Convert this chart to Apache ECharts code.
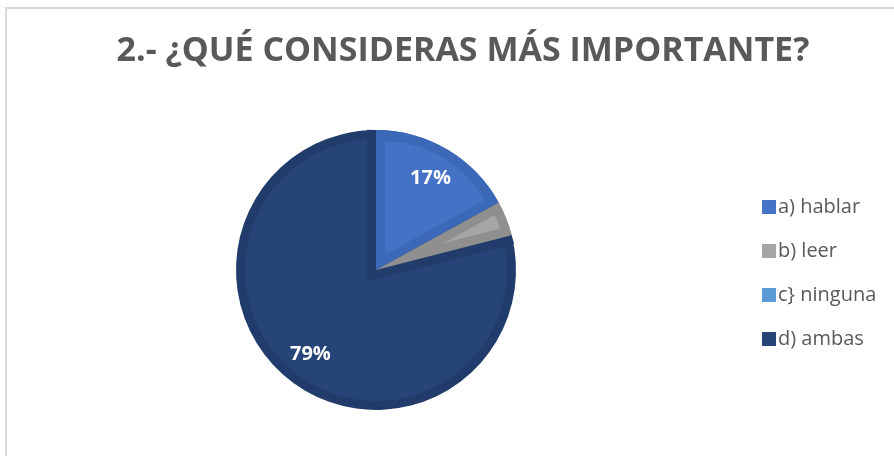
<!DOCTYPE html>
<html>
<head>
<meta charset="utf-8">
<script src="https://cdn.jsdelivr.net/npm/echarts@6/dist/echarts.min.js"></script>
<style>
  html, body { margin: 0; padding: 0; background: #fff; }
  .frame {
    position: absolute; left: 5px; top: 7px; width: 900px; height: 460px;
    border-left: 2px solid #d9d9d9; border-top: 2px solid #d9d9d9;
  }
  #chart { position: absolute; left: 0; top: 0; width: 894px; height: 456px; }
</style>
</head>
<body>
<div class="frame"></div>
<div id="chart"></div>
<script>
const TITLE = '2.- ¿QUÉ CONSIDERAS MÁS IMPORTANTE?'
const categories = ['a) hablar', 'b) leer', 'c} ninguna', 'd) ambas']
const values = [17, 4, 0, 79]
const fillColors = ['#4472C4', '#A5A5A5', '#5B9BD5', '#264478']
const bandColors = ['#3C68B8', '#8F8F8F', '#4F8AC2', '#213B6B']
const labelShown = [true, false, false, true]

const TEXT = '#595959'
const FONT = 'Open Sans'
const CENTER = [376, 270]
const R = 140   // outer radius
const W = 9     // width of the darker inner band of each slice
const NONE = 'rgba(0,0,0,0)'

const total = values.reduce((s, v) => s + v, 0)
const halfAngle = (v) => v / total * Math.PI

// one pie layer: every category is present so angles stay right, only some are painted
const layer = (radius, colorFor, extra = {}) => ({
  type: 'pie',
  center: CENTER,
  radius,
  silent: true,
  animation: false,
  label: { show: false },
  labelLine: { show: false },
  emphasis: { disabled: true },
  data: categories.map((name, i) => ({
    name,
    value: values[i],
    itemStyle: { color: colorFor(i), borderWidth: 0 }
  })),
  ...extra
})

// eroded fill of slice i: same wedge pushed along its bisector so the edges move in by W
const erodedFill = (i) => {
  const t = W / Math.sin(halfAngle(values[i]))
  const s = layer(Math.max(R - W - t, 0), (j) => (j === i ? fillColors[i] : NONE), {
    selectedMode: 'single',
    selectedOffset: t
  })
  s.data[i].selected = true
  s.select = { itemStyle: { color: fillColors[i] } }
  return s
}

// band of the big slice along the edges of the others: the small wedges grown by W
const smallSum = values.slice(0, 3).reduce((s, v) => s + v, 0)
const hSmall = halfAngle(smallSum)
const tSmall = W / Math.sin(hSmall)
const rSmall = Math.hypot(R * Math.cos(hSmall) + tSmall, R * Math.sin(hSmall))
const grownSmall = {
  type: 'pie',
  center: CENTER,
  radius: rSmall,
  silent: true,
  animation: false,
  selectedMode: 'single',
  selectedOffset: -tSmall,
  label: { show: false },
  labelLine: { show: false },
  emphasis: { disabled: true },
  select: { itemStyle: { color: bandColors[3] } },
  data: [
    { name: 'small', value: smallSum, selected: true, itemStyle: { color: bandColors[3] } },
    { name: 'big', value: values[3], itemStyle: { color: NONE } }
  ]
}

const series = [
  layer(R, (i) => bandColors[i]),
  layer(R - W, () => fillColors[3]),
  grownSmall,
  layer(R, (i) => (i === 3 ? NONE : bandColors[i])),
  erodedFill(0),
  erodedFill(1),
  {
    type: 'pie',
    center: CENTER,
    radius: [68, R],
    silent: true,
    animation: false,
    emphasis: { disabled: true },
    labelLine: { show: false },
    label: {
      show: true,
      position: 'inside',
      color: '#fff',
      fontSize: 20,
      fontWeight: 'bold',
      fontFamily: FONT,
      formatter: (p) => (labelShown[p.dataIndex] ? p.value + '%' : '')
    },
    data: categories.map((name, i) => ({ name, value: values[i], itemStyle: { color: NONE } }))
  }
]

const chart = echarts.init(document.getElementById('chart'))
chart.setOption({
  animation: false,
  backgroundColor: 'transparent',
  title: {
    text: TITLE,
    left: 458,
    top: 29,
    textAlign: 'center',
    textStyle: { color: TEXT, fontSize: 34, fontWeight: 'bold', fontFamily: FONT }
  },
  legend: {
    orient: 'vertical',
    left: 757,
    top: 192,
    itemWidth: 14,
    itemHeight: 14,
    itemGap: 24,
    icon: 'rect',
    selectedMode: false,
    textStyle: { color: TEXT, fontSize: 20, fontFamily: FONT, padding: [0, 0, 0, -3] },
    data: categories.map((name, i) => ({ name, itemStyle: { color: fillColors[i] } }))
  },
  series
})
</script>
</body>
</html>
